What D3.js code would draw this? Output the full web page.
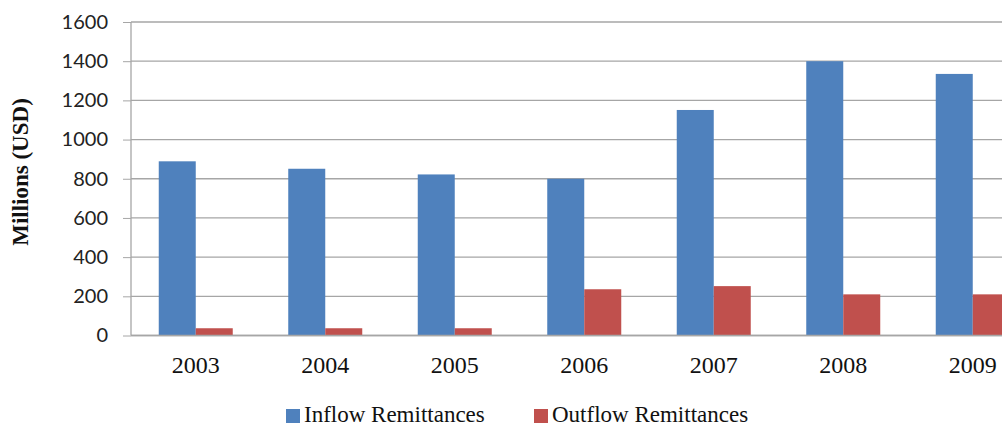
<!DOCTYPE html>
<html lang="en">
<head>
    <meta charset="utf-8">
    <title>Remittances</title>
    <style>
        body { margin: 0; background: #fff; }
        svg { display: block; }
        .y.axis text { font-family: Lato, "Open Sans", sans-serif; font-size: 20px; fill: #222; }
        .y.axis path { display: none; }
        .y.axis line { stroke: #a6a6a6; }
        .grid line { stroke: #a6a6a6; stroke-width: 1.3; }
        .serif { font-family: "Liberation Serif", "Times New Roman", serif; fill: #111; }
    </style>
</head>
<body>
    <div id="chart"></div>

    <script src="https://cdn.jsdelivr.net/npm/d3@7"></script>
    <script>
        const years = ['2003', '2004', '2005', '2006', '2007', '2008', '2009'];
        const inflow = [889, 851, 822, 800, 1151, 1400, 1335];
        const outflow = [37, 37, 37, 236, 252, 210, 210];
        const series_names = ['Inflow Remittances', 'Outflow Remittances'];
        const series_colors = ['#4f81bd', '#c0504d'];
        const y_ticks = [0, 200, 400, 600, 800, 1000, 1200, 1400, 1600];

        const width = 1002, height = 428;
        // plot area runs past the right edge, like the cropped original
        const plot = {left: 131, top: 22, bottom: 335.5, step: 129.5};

        const svg = d3.select('#chart')
            .append('svg')
                .attr('width', width)
                .attr('height', height);

        const x0 = d3.scaleBand()
            .domain(years)
            .range([plot.left, plot.left + plot.step * years.length]);

        // gap width 150% -> outer padding 0.75 of a bar on each side
        const x1 = d3.scaleBand()
            .domain(series_names)
            .range([0, x0.bandwidth()])
            .paddingOuter(0.75);

        const y = d3.scaleLinear()
            .domain([0, 1600])
            .range([plot.bottom, plot.top]);

        // gridlines
        svg.append('g')
            .attr('class', 'grid')
            .selectAll('line')
            .data(y_ticks)
            .join('line')
                .attr('x1', plot.left)
                .attr('x2', width)
                .attr('y1', d => y(d))
                .attr('y2', d => y(d));

        // y axis
        const y_axis = d3.axisLeft(y)
            .tickValues(y_ticks)
            .tickFormat(d3.format('d'))
            .tickSize(8)
            .tickPadding(15);
        svg.append('g')
            .attr('class', 'y axis')
            .attr('transform', `translate(${plot.left}, 0)`)
            .call(y_axis);

        svg.append('line')
            .attr('x1', plot.left).attr('x2', plot.left)
            .attr('y1', y(1600)).attr('y2', y(0))
            .attr('stroke', '#a6a6a6').attr('stroke-width', 1.3);

        // bars
        const rows = years.map((yr, i) => ({year: yr, values: [inflow[i], outflow[i]]}));
        const groups = svg.append('g')
            .selectAll('g')
            .data(rows)
            .join('g')
                .attr('transform', d => `translate(${x0(d.year)}, 0)`);

        groups.selectAll('rect')
            .data(d => d.values.map((v, k) => ({name: series_names[k], value: v, color: series_colors[k]})))
            .join('rect')
                .attr('x', d => x1(d.name))
                .attr('width', x1.bandwidth())
                .attr('y', d => y(d.value))
                .attr('height', d => y(0) - y(d.value))
                .attr('fill', d => d.color);

        // x axis baseline
        svg.append('line')
            .attr('x1', plot.left).attr('x2', width)
            .attr('y1', y(0)).attr('y2', y(0))
            .attr('stroke', '#a6a6a6').attr('stroke-width', 1.5);

        // year labels
        svg.append('g')
            .selectAll('text')
            .data(years)
            .join('text')
                .attr('class', 'serif')
                .attr('x', d => x0(d) + x0.bandwidth() / 2)
                .attr('y', 373)
                .attr('text-anchor', 'middle')
                .style('font-size', '24px')
                .text(d => d);

        // y label
        svg.append('text')
            .attr('class', 'serif')
            .attr('transform', 'translate(28, 172) rotate(-90)')
            .attr('text-anchor', 'middle')
            .style('font-size', '23px')
            .style('font-weight', 'bold')
            .text('Millions (USD)');

        // legend
        const legend_x = [286, 534];
        const legend = svg.append('g')
            .selectAll('g')
            .data(series_names)
            .join('g')
                .attr('transform', (d, i) => `translate(${legend_x[i]}, 0)`);

        legend.append('rect')
            .attr('y', 409)
            .attr('width', 14)
            .attr('height', 14)
            .attr('fill', (d, i) => series_colors[i]);

        legend.append('text')
            .attr('class', 'serif')
            .attr('x', 18)
            .attr('y', 422)
            .style('font-size', '23px')
            .text(d => d);
    </script>
</body>
</html>
